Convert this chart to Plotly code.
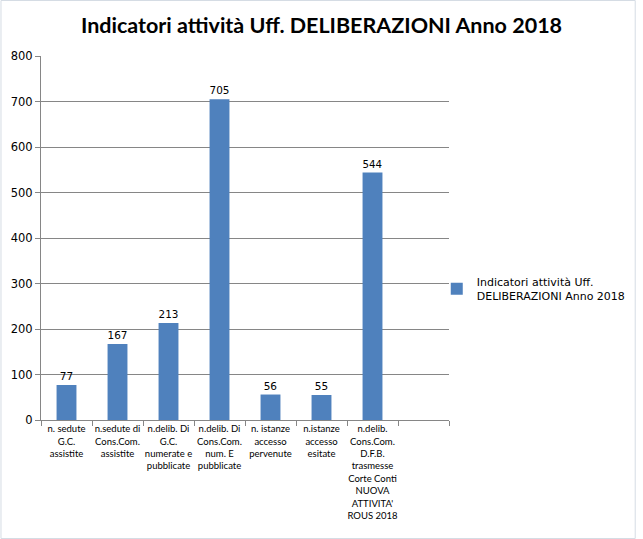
import plotly.graph_objects as go

categories = [
    "n. sedute<br>G.C.<br>assistite",
    "n.sedute di<br>Cons.Com.<br>assistite",
    "n.delib. Di<br>G.C.<br>numerate e<br>pubblicate",
    "n.delib. Di<br>Cons.Com.<br>num. E<br>pubblicate",
    "n. istanze<br>accesso<br>pervenute",
    "n.istanze<br>accesso<br>esitate",
    "n.delib.<br>Cons.Com.<br>D.F.B.<br>trasmesse<br>Corte Conti<br>NUOVA<br>ATTIVITA'<br>ROUS 2018",
    " ",
]
values = [77, 167, 213, 705, 56, 55, 544, None]
labels = ["77", "167", "213", "705", "56", "55", "544", ""]
series_name = "Indicatori attività Uff.<br>DELIBERAZIONI Anno 2018"
y_ticks = [0, 100, 200, 300, 400, 500, 600, 700, 800]

fig = go.Figure()
fig.add_trace(go.Bar(
    x=categories, y=values, name=series_name,
    marker=dict(color="#4F81BD", line=dict(width=0)),
    text=labels, textposition="outside", cliponaxis=False,
    textfont=dict(family="DejaVu Sans, Verdana", size=10.5, color="#000000"),
))

fig.update_layout(
    width=643, height=539,
    margin=dict(l=41, r=189, t=56, b=119),
    paper_bgcolor="white", plot_bgcolor="white",
    bargap=0.61,
    showlegend=True,
    title=dict(text="<b>Indicatori attività Uff. DELIBERAZIONI Anno 2018</b>",
               x=0.5, xref="container", xanchor="center",
               y=1 - 25 / 539, yref="container", yanchor="middle",
               font=dict(family="Lato, Arial", size=21.5, color="#000000"),
               automargin=False),
    legend=dict(x=0.97, y=0.36, xanchor="left", yanchor="middle",
                bgcolor="rgba(0,0,0,0)",
                font=dict(family="DejaVu Sans, Verdana", size=11, color="#000000"),
                itemwidth=30, traceorder="normal"),
    font=dict(family="Lato, Arial", color="#000000"),
)
fig.update_xaxes(
    range=[-0.5, 7.5], showline=True, linecolor="#868686", linewidth=1,
    ticks="outside", tickson="boundaries", ticklen=5, tickcolor="#868686",
    tickfont=dict(family="Lato, Arial", size=9.5), tickangle=0,
    showgrid=False, automargin=False,
)
fig.update_yaxes(
    range=[0, 800], tickvals=y_ticks, showline=True, linecolor="#868686",
    linewidth=1, ticks="outside", ticklen=5, tickcolor="#868686",
    showgrid=True, gridcolor="#868686", gridwidth=1, zeroline=False,
    tickfont=dict(family="DejaVu Sans, Verdana", size=11.5), automargin=False,
)
# outer chart border
fig.add_shape(type="rect", xref="paper", yref="paper",
              x0=-40.5 / 413, x1=1 + 188.5 / 413, y0=-118.5 / 364, y1=1 + 55.5 / 364,
              line=dict(color="#D5DCE4", width=1), fillcolor="rgba(0,0,0,0)")

fig.write_html("out.html", config={"displayModeBar": False},
               post_script="document.body.style.margin='0';document.body.style.overflow='hidden';")
